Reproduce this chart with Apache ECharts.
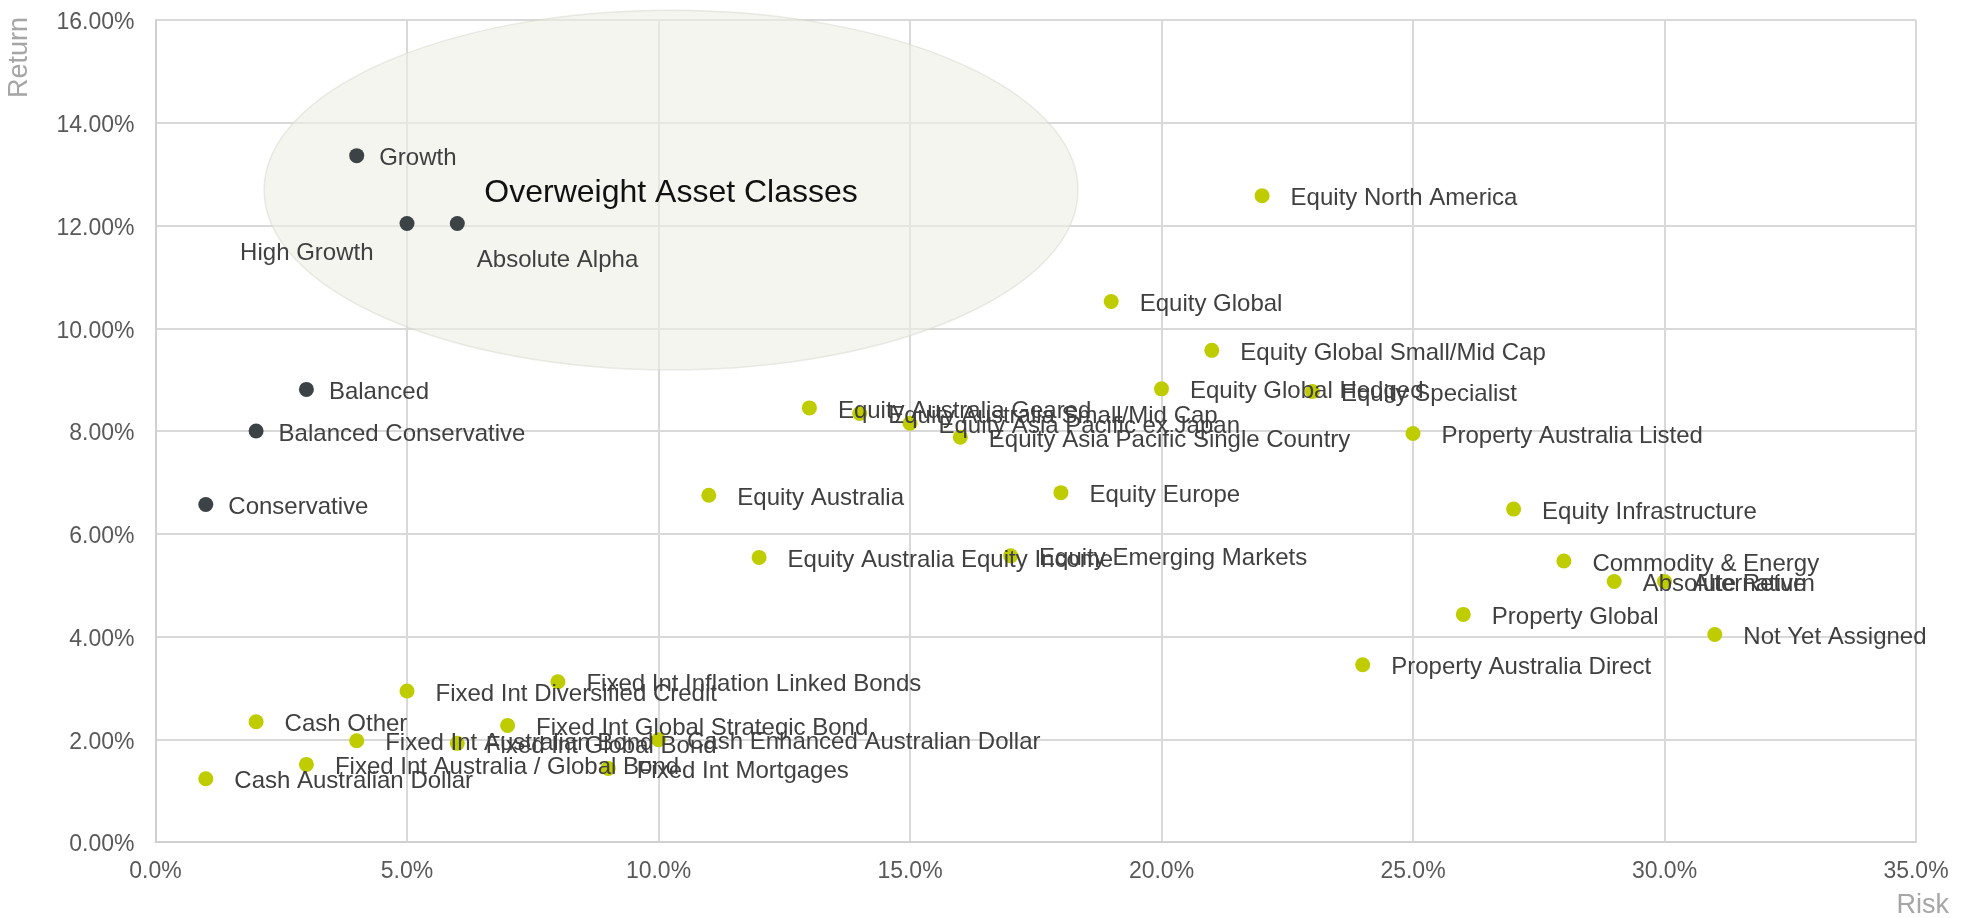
<!DOCTYPE html>
<html>
<head>
<meta charset="utf-8">
<title>Risk / Return</title>
<script src="https://cdn.jsdelivr.net/npm/echarts@6/dist/echarts.min.js"></script>
<style>
  html, body { margin: 0; padding: 0; background: #fff; }
  #riskChart { width: 1966px; height: 918px; }
</style>
</head>
<body>
<div id="riskChart"></div>
<script>
// model portfolios (dark dots)
const modelNames = ['Growth', 'High Growth', 'Absolute Alpha', 'Balanced', 'Balanced Conservative', 'Conservative'];
const modelRisk = [4, 5, 6, 3, 2, 1];
const modelReturn = [13.36, 12.04, 12.04, 8.81, 8.00, 6.57];

// asset classes (green dots)
const assetNames = [
  'Cash Australian Dollar', 'Cash Other', 'Fixed Int Australia / Global Bond', 'Fixed Int Australian Bond',
  'Fixed Int Diversified Credit', 'Fixed Int Global Bond', 'Fixed Int Global Strategic Bond',
  'Fixed Int Inflation Linked Bonds', 'Fixed Int Mortgages', 'Cash Enhanced Australian Dollar',
  'Equity Australia', 'Equity Australia Equity Income', 'Equity Australia Geared',
  'Equity Australia Small/Mid Cap', 'Equity Asia Pacific ex Japan', 'Equity Asia Pacific Single Country',
  'Equity Emerging Markets', 'Equity Europe', 'Equity Global', 'Equity Global Hedged',
  'Equity Global Small/Mid Cap', 'Equity North America', 'Equity Specialist', 'Property Australia Direct',
  'Property Australia Listed', 'Property Global', 'Equity Infrastructure', 'Commodity & Energy',
  'Absolute Return', 'Alternative', 'Not Yet Assigned'
];
const assetRisk = [1, 2, 3, 4, 5, 6, 7, 8, 9, 10, 11, 12, 13, 14, 15, 16, 17, 18, 19, 20, 21, 22, 23, 24, 25, 26, 27, 28, 29, 30, 31];
const assetReturn = [
  1.23, 2.34, 1.51, 1.97, 2.94, 1.92, 2.27, 3.12, 1.43, 1.99,
  6.75, 5.54, 8.45, 8.34, 8.15, 7.88, 5.57, 6.80, 10.52, 8.82,
  9.57, 12.58, 8.77, 3.45, 7.95, 4.43, 6.48, 5.47, 5.07, 5.07, 4.04
];

// overweight zone: centre risk, centre return, half width, half height
const zoneText = 'Overweight Asset Classes';
const zoneEllipse = [10.25, 12.69, 8.09, 3.5];

const xTicks = [0, 5, 10, 15, 20, 25, 30, 35];
const yTicks = [0, 2, 4, 6, 8, 10, 12, 14, 16];

const font = '"Liberation Sans", Arial, sans-serif';

// a couple of labels sit under their dots
const labelTweaks = {
  'High Growth': { position: 'left', distance: 26, offset: [0, 30] },
  'Absolute Alpha': { position: 'right', distance: 12, offset: [0, 37] }
};

function buildPoints(names, xs, ys) {
  return names.map(function (n, i) {
    let item = { name: n, value: [xs[i], ys[i]] };
    if (labelTweaks[n]) item.label = labelTweaks[n];
    return item;
  });
}

let chart = echarts.init(document.getElementById('riskChart'));
let option = {
  backgroundColor: '#ffffff',
  animation: false,
  grid: { left: 155.5, right: 50, top: 20, bottom: 76 },
  xAxis: {
    type: 'value',
    min: xTicks[0],
    max: xTicks[xTicks.length - 1],
    interval: 5,
    axisLine: { show: true, lineStyle: { color: '#d0d0d0', width: 2 } },
    axisTick: { show: false },
    splitLine: { show: true, lineStyle: { color: '#d9d9d9', width: 2 } },
    axisLabel: {
      color: '#595959', fontSize: 23, fontFamily: font, margin: 18,
      formatter: function (v) { return v.toFixed(1) + '%'; }
    }
  },
  yAxis: {
    type: 'value',
    min: yTicks[0],
    max: yTicks[yTicks.length - 1],
    interval: 2,
    axisLine: { show: true, lineStyle: { color: '#d0d0d0', width: 2 } },
    axisTick: { show: false },
    splitLine: { show: true, lineStyle: { color: '#d9d9d9', width: 2 } },
    axisLabel: {
      color: '#595959', fontSize: 23, fontFamily: font, margin: 21,
      formatter: function (v) { return '{t|' + v.toFixed(2) + '%}'; },
      rich: { t: { fontSize: 23, fontFamily: font, color: '#595959', padding: [6, 0, 0, 0] } }
    }
  },
  graphic: [
    {
      type: 'text', left: 6, top: 17, rotation: Math.PI / 2,
      style: { text: 'Return', fontSize: 27, fontFamily: font, fill: '#a6a6a6' }
    },
    {
      type: 'text', right: 17, top: 892,
      style: { text: 'Risk', fontSize: 27, fontFamily: font, fill: '#a6a6a6' }
    }
  ],
  series: [
    {
      name: 'zone',
      type: 'custom',
      z: 1,
      silent: true,
      data: [zoneEllipse],
      renderItem: function (params, api) {
        let c = api.coord([api.value(0), api.value(1)]);
        let s = api.size([api.value(2), api.value(3)]);
        return {
          type: 'group',
          children: [
            {
              type: 'ellipse',
              shape: { cx: c[0], cy: c[1], rx: s[0], ry: s[1] },
              style: { fill: 'rgba(238,238,230,0.6)', stroke: 'rgba(215,215,205,0.5)', lineWidth: 1.5 }
            },
            {
              type: 'text',
              x: c[0], y: c[1] + 3,
              style: {
                text: zoneText, fontSize: 32, fontFamily: font, fill: '#111111',
                align: 'center', verticalAlign: 'middle'
              }
            }
          ]
        };
      }
    },
    {
      name: 'Portfolios',
      type: 'scatter',
      z: 3,
      symbolSize: 15,
      itemStyle: { color: '#3c4346', opacity: 1 },
      label: {
        show: true, position: 'right', distance: 15, offset: [0, 3],
        formatter: '{b}', color: '#404040', fontSize: 24, fontFamily: font
      },
      data: buildPoints(modelNames, modelRisk, modelReturn)
    },
    {
      name: 'Asset classes',
      type: 'scatter',
      z: 3,
      symbolSize: 15,
      itemStyle: { color: '#bfcc00', opacity: 1 },
      label: {
        show: true, position: 'right', distance: 21, offset: [0, 3],
        formatter: '{b}', color: '#404040', fontSize: 24, fontFamily: font
      },
      data: buildPoints(assetNames, assetRisk, assetReturn)
    }
  ]
};
chart.setOption(option);
</script>
</body>
</html>
